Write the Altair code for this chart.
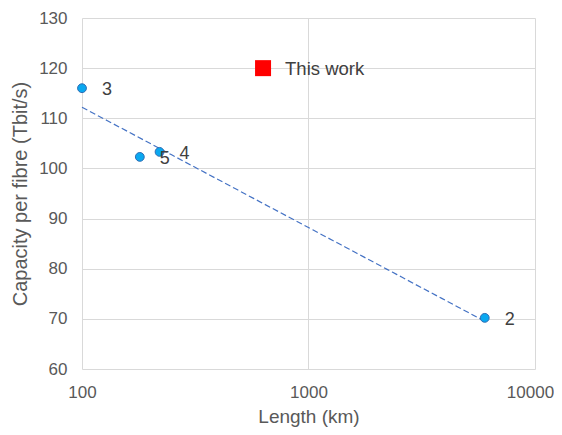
import altair as alt
import pandas as pd

lengths = [100, 180, 220, 6000]
capacities = [116, 102.3, 103.3, 70.2]
refs = ["3", "5", "4", "2"]

this_length = [630]
this_capacity = [120]
this_label = ["This work"]

df = pd.DataFrame({"length": lengths, "capacity": capacities, "ref": refs})
dfw = pd.DataFrame({"length": this_length, "capacity": this_capacity, "label": this_label})

FONT = "Liberation Sans"
xs = alt.Scale(type="log", domain=[100, 10000])
ys = alt.Scale(domain=[60, 130])

xenc = alt.X("length:Q", scale=xs,
             axis=alt.Axis(title="Length (km)", values=[100, 1000, 10000], format="d",
                           grid=True, domain=False, ticks=False, labelPadding=15,
                           titlePadding=7, labelFlush=False, titleFontSize=19,
                           labelOffset={"expr": "datum.value == 10000 ? -5 : 0"}))
yenc = alt.Y("capacity:Q", scale=ys,
             axis=alt.Axis(title="Capacity per fibre (Tbit/s)", values=list(range(60, 131, 10)),
                           grid=True, domain=False, ticks=False, labelPadding=15,
                           titlePadding=8))

trend = alt.Chart(df).transform_regression(
    "length", "capacity", method="log", extent=[100, 6000]
).mark_line(color="#4472C4", strokeWidth=1.2, strokeDash=[6, 3]).encode(x=xenc, y=yenc)

pts = alt.Chart(df).mark_point(filled=True, size=78, fill="#0AA8F0", stroke="#2E6DB4",
                               strokeWidth=1, opacity=1).encode(x=xenc, y=yenc)

labels = alt.Chart(df).mark_text(align="left", baseline="middle", dx=20, dy=2,
                                 fontSize=18, font=FONT, color="#404040").encode(
    x=xenc, y=yenc, text="ref:N")

sq = alt.Chart(dfw).mark_point(shape="square", filled=True, size=256, color="#FF0000",
                               opacity=1).encode(x=xenc, y=yenc)
sqlabel = alt.Chart(dfw).mark_text(align="left", baseline="middle", dx=22, dy=1,
                                   fontSize=18.5, font=FONT, color="#404040").encode(
    x=xenc, y=yenc, text="label:N")

chart = alt.layer(trend, pts, labels, sq, sqlabel).properties(
    width=453, height=351,
    autosize=alt.AutoSizeParams(type="none"),
    padding={"left": 74, "top": 10, "right": 19, "bottom": 58},
).configure_view(stroke=None).configure_axis(
    labelFont=FONT, titleFont=FONT, labelFontSize=17, titleFontSize=20,
    labelColor="#595959", titleColor="#595959", titleFontWeight="normal",
    gridColor="#D9D9D9", gridWidth=1
)

chart.save("out.html", embed_options={"renderer": "svg", "actions": False})
